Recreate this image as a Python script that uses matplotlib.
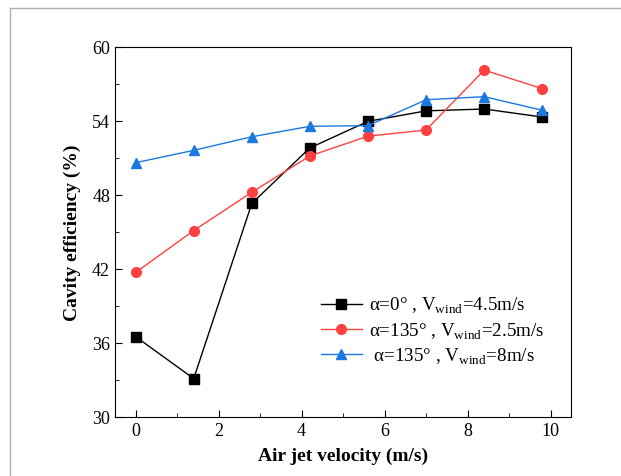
import numpy as np
import matplotlib
matplotlib.use('Agg')
import matplotlib.pyplot as plt
from matplotlib.ticker import MultipleLocator
from matplotlib.lines import Line2D

plt.rcParams['font.family'] = 'Liberation Serif'
plt.rcParams['mathtext.fontset'] = 'custom'
plt.rcParams['mathtext.rm'] = 'Liberation Serif'

jet_velocity = [0, 1.4, 2.8, 4.2, 5.6, 7.0, 8.4, 9.8]
eff_a0_v45 = [36.5, 33.1, 47.3, 51.8, 53.95, 54.8, 54.95, 54.3]
eff_a135_v25 = [41.7, 45.1, 48.2, 51.15, 52.75, 53.25, 58.1, 56.6]
eff_a135_v8 = [50.6, 51.6, 52.7, 53.55, 53.6, 55.7, 55.95, 54.85]

labels = [r'α=0° , V$_{\mathrm{wind}}$=4.5m/s',
          r'α=135° , V$_{\mathrm{wind}}$=2.5m/s',
          r' α=135° , V$_{\mathrm{wind}}$=8m/s']

fig = plt.figure(figsize=(6.21, 4.77), dpi=100)
ax = fig.add_axes([0.185, 0.124, 0.735, 0.776])

# thin grey frame on top/left of the picture
fig.add_artist(Line2D([10/621, 10/621], [0, 1 - 9/477], transform=fig.transFigure, color='#b0b0b0', lw=1))
fig.add_artist(Line2D([10/621, 1], [1 - 9/477, 1 - 9/477], transform=fig.transFigure, color='#b0b0b0', lw=1))

ax.plot(jet_velocity, eff_a0_v45, color='black', marker='s', markersize=6.5, lw=1, label=labels[0])
ax.plot(jet_velocity, eff_a135_v25, color='#ff4040', marker='o', markersize=7, lw=1, label=labels[1])
ax.plot(jet_velocity, eff_a135_v8, color='#1a78e0', marker='^', markersize=7.5, lw=1, label=labels[2])

ax.set_xlim(-0.5, 10.5)
ax.set_ylim(30, 60)
ax.xaxis.set_major_locator(MultipleLocator(2))
ax.xaxis.set_minor_locator(MultipleLocator(1))
ax.yaxis.set_major_locator(MultipleLocator(6))
ax.yaxis.set_minor_locator(MultipleLocator(3))
ax.tick_params(which='both', direction='in', labelsize=13)
ax.tick_params(which='major', length=5)
ax.tick_params(which='minor', length=3)

ax.set_xlabel('Air jet velocity (m/s)', fontsize=14, fontweight='bold', labelpad=6)
ax.set_ylabel('Cavity efficiency (%)', fontsize=14, fontweight='bold', labelpad=8)

ax.legend(loc='upper left', bbox_to_anchor=(0.413, 0.375), frameon=False, fontsize=13.7,
          handlelength=2.2, handletextpad=0.35, labelspacing=0.25)

fig.savefig('out.png', dpi=100)
